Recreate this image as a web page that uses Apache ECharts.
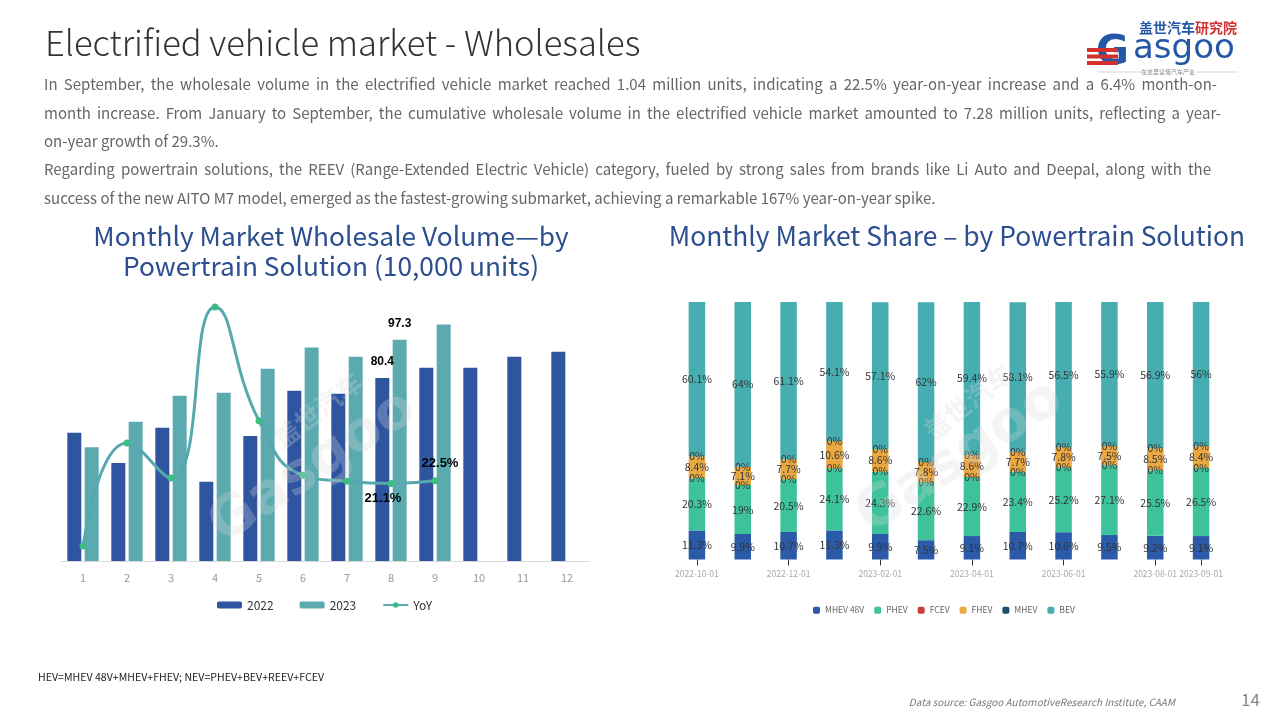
<!DOCTYPE html>
<html>
<head>
<meta charset="utf-8">
<script src="https://cdn.jsdelivr.net/npm/echarts@6/dist/echarts.min.js"></script>
<style>
html,body{margin:0;padding:0;background:#fff;}
#main{width:1280px;height:720px;}
</style>
</head>
<body>
<div id="main"></div>
<script>
// ---------- data ----------
const months = ['1','2','3','4','5','6','7','8','9','10','11','12'];
const vol2022 = [56.4, 43.1, 58.6, 34.8, 55.0, 74.8, 73.5, 80.4, 84.9, 85.0, 89.8, 92.0];
const vol2023 = [50.0, 61.2, 72.6, 74.0, 84.5, 93.8, 89.8, 97.3, 104.0];
const yoy = [-11.3, 42.0, 23.9, 112.6, 53.6, 25.4, 22.2, 21.1, 22.5];

const shareMonths = ['2022-10-01','2022-11-01','2022-12-01','2023-01-01','2023-02-01','2023-03-01',
                     '2023-04-01','2023-05-01','2023-06-01','2023-07-01','2023-08-01','2023-09-01'];
const mhev48v = [11.3, 9.9, 10.7, 11.3, 9.9, 7.5, 9.1, 10.7, 10.6, 9.5, 9.2, 9.1];
const phev    = [20.3, 19, 20.5, 24.1, 24.3, 22.6, 22.9, 23.4, 25.2, 27.1, 25.5, 26.5];
const fcev    = [0, 0, 0, 0, 0, 0, 0, 0, 0, 0, 0, 0];
const fhev    = [8.4, 7.1, 7.7, 10.6, 8.6, 7.8, 8.6, 7.7, 7.8, 7.5, 8.5, 8.4];
const mhev    = [0, 0, 0, 0, 0, 0, 0, 0, 0, 0, 0, 0];
const bev     = [60.1, 64, 61.1, 54.1, 57.1, 62, 59.4, 58.1, 56.5, 55.9, 56.9, 56];
const shownDateLabels = ['2022-10-01','2022-12-01','2023-02-01','2023-04-01','2023-06-01','2023-08-01','2023-09-01'];

const pageTitle = 'Electrified vehicle market - Wholesales';
const bodyLines = [
 'In September, the wholesale volume in the electrified vehicle market reached 1.04 million units, indicating a 22.5% year-on-year increase and a 6.4% month-on-',
 'month increase. From January to September, the cumulative wholesale volume in the electrified vehicle market amounted to 7.28 million units, reflecting a year-',
 'on-year growth of 29.3%.',
 'Regarding powertrain solutions, the REEV (Range-Extended Electric Vehicle) category, fueled by strong sales from brands like Li Auto and Deepal, along with the',
 'success of the new AITO M7 model, emerged as the fastest-growing submarket, achieving a remarkable 167% year-on-year spike.'
];
const leftTitle = 'Monthly Market Wholesale Volume\u2014by\nPowertrain Solution (10,000 units)';
const rightTitle = 'Monthly Market Share \u2013 by Powertrain Solution';
const footnote = 'HEV=MHEV 48V+MHEV+FHEV; NEV=PHEV+BEV+REEV+FCEV';
const sourceNote = 'Data source: Gasgoo AutomotiveResearch Institute, CAAM';
const pageNo = '14';

// ---------- layout helpers ----------
const FONT = '"Noto Sans CJK SC","Noto Sans",sans-serif';
const BODY_FONT = '15px ' + FONT;
const bodyRight = [1217, 1221, null, 1211, null]; // justified right edge per line (null = natural)
const measureCtx = document.createElement('canvas').getContext('2d');
function bodyGraphicsFor(lines){
  measureCtx.font = BODY_FONT;
  const out = [];
  lines.forEach((t,i)=>{
    const top = 77 + i*28.4;
    if(bodyRight[i] == null){
      out.push({type:'text', left:44, top:top, style:{text:t, font:BODY_FONT, fill:'#666'}});
      return;
    }
    const words = t.split(' ');
    const ws = words.map(w=>measureCtx.measureText(w).width);
    const total = ws.reduce((a,b)=>a+b,0);
    const gap = (bodyRight[i] - 44 - total) / (words.length - 1);
    let x = 44;
    words.forEach((w,k)=>{
      out.push({type:'text', x:x, y:top, style:{text:w, font:BODY_FONT, fill:'#666', verticalAlign:'top'}});
      x += ws[k] + gap;
    });
  });
  return out;
}

// ---------- chart ----------
const chart = echarts.init(document.getElementById('main'), null, {renderer:'canvas'});

const hl = 7; // highlighted month index (August)
function withLabel(arr, idx, label){
  return arr.map((v,i)=> i===idx ? {value:v, label:label} : v);
}
const barLabel = {show:true, position:'top', distance:10, color:'#000', fontSize:12, fontWeight:'bold',
  fontFamily:'"Liberation Sans",Arial,sans-serif'};
const yoyData = yoy.map((v,i)=>{
  if(i===7) return {value:v, label:{show:true, position:'bottom', distance:5, offset:[-8,0]}};
  if(i===8) return {value:v, label:{show:true, position:'top', distance:7, offset:[5,0]}};
  return v;
});

const shareColors = ['#2a5aa8','#3dc29c','#c8413c','#e9a842','#1f4f72','#46aeb0'];
const shareNames = ['MHEV 48V','PHEV','FCEV','FHEV','MHEV','BEV'];
const shareData = [mhev48v, phev, fcev, fhev, mhev, bev];

const shareSeries = shareNames.map((n,k)=>({
  name:n, type:'bar', stack:'share', xAxisIndex:1, yAxisIndex:2,
  barWidth:16.5, data:shareData[k],
  itemStyle:{color:shareColors[k]},
  label:{show:true, position:'inside', formatter:'{c}%', color:'#333', fontSize:10.5, fontFamily:FONT},
  emphasis:{disabled:true}
}));

const wmStyle = {fill:'rgba(215,215,215,0.28)', align:'center', verticalAlign:'middle'};
const dateInterval = (i,v)=>shownDateLabels.indexOf(v)>=0;

const option = {
  animation:false,
  backgroundColor:'#fff',
  textStyle:{fontFamily:FONT},
  title:[
    {text:leftTitle, left:326, top:216, textAlign:'center',
     textStyle:{fontSize:26.3, fontWeight:'normal', color:'#2d4f90', lineHeight:30, fontFamily:FONT}},
    {text:rightTitle, left:952, top:218, textAlign:'center',
     textStyle:{fontSize:26.4, fontWeight:'normal', color:'#2d4f90', fontFamily:FONT}}
  ],
  legend:[
    {data:['2022','2023','YoY'], left:212, top:594, itemWidth:25, itemHeight:7, itemGap:26,
     textStyle:{fontSize:12, color:'#333', fontFamily:FONT}},
    {data:shareNames, left:808, top:601, itemWidth:7, itemHeight:7, itemGap:10, icon:'roundRect',
     textStyle:{fontSize:8.5, color:'#666', fontFamily:FONT}}
  ],
  grid:[
    {left:61, right:691, top:288, bottom:159},
    {left:674, right:56, top:302, bottom:160.5}
  ],
  xAxis:[
    {type:'category', gridIndex:0, data:months,
     axisLine:{lineStyle:{color:'#d9d9d9'}}, axisTick:{show:false},
     axisLabel:{color:'#999', fontSize:11, margin:11}},
    {type:'category', gridIndex:1, data:shareMonths,
     axisLine:{show:true, lineStyle:{color:'rgba(0,0,0,0)'}},
     axisTick:{show:true, alignWithLabel:true, length:6, lineStyle:{color:'#333'}, interval:dateInterval},
     axisLabel:{color:'#aaa', fontSize:8.5, margin:10, interval:dateInterval, hideOverlap:false,
       showMaxLabel:true, showMinLabel:true}}
  ],
  yAxis:[
    {type:'value', gridIndex:0, min:0, max:120, show:false, splitLine:{show:false}},
    {type:'value', gridIndex:0, min:-19.1, max:122.4, show:false, splitLine:{show:false}},
    {type:'value', gridIndex:1, min:0, max:100, show:false, splitLine:{show:false}}
  ],
  series:[
    {name:'2022', type:'bar', xAxisIndex:0, yAxisIndex:0, barWidth:14, barGap:'24%',
     data:withLabel(vol2022, hl, barLabel), itemStyle:{color:'#2f55a1'}, emphasis:{disabled:true}},
    {name:'2023', type:'bar', xAxisIndex:0, yAxisIndex:0, barWidth:14, barGap:'24%',
     data:withLabel(vol2023, hl, barLabel), itemStyle:{color:'#5aaab0'}, emphasis:{disabled:true}},
    {name:'YoY', type:'line', xAxisIndex:0, yAxisIndex:1, smooth:0.5, data:yoyData,
     symbol:'circle', symbolSize:7,
     lineStyle:{color:'#55a9ae', width:3}, itemStyle:{color:'#3dbd82'},
     label:{show:false, formatter:'{c}%', color:'#000', fontSize:13, fontWeight:'bold',
       fontFamily:'"Liberation Sans",Arial,sans-serif'},
     emphasis:{disabled:true}, z:5},
    ...shareSeries
  ],
  graphic:[
    // watermarks
    {type:'text', x:313, y:468, rotation:0.58, z:50, silent:true,
     style:Object.assign({text:'Gasgoo', font:'bold 56px "DejaVu Sans",sans-serif'}, wmStyle)},
    {type:'text', x:318, y:410, rotation:0.66, z:50, silent:true,
     style:Object.assign({text:'盖世汽车', font:'bold 26px "Noto Sans CJK SC"'}, wmStyle)},
    {type:'text', x:960, y:458, rotation:0.58, z:50, silent:true,
     style:Object.assign({text:'Gasgoo', font:'bold 56px "DejaVu Sans",sans-serif'}, wmStyle)},
    {type:'text', x:968, y:402, rotation:0.66, z:50, silent:true,
     style:Object.assign({text:'盖世汽车', font:'bold 26px "Noto Sans CJK SC"'}, wmStyle)},
    // page title
    {type:'text', left:45, top:26, style:{text:pageTitle, font:'300 34.6px ' + FONT, fill:'#333'}},
    ...bodyGraphicsFor(bodyLines),
    // logo
    {type:'text', left:1139, top:21, style:{rich:{
        a:{font:'bold 14px "Noto Sans CJK SC"', fill:'#2557a7'},
        b:{font:'bold 14px "Noto Sans CJK SC"', fill:'#d3302f'}},
      text:'{a|盖世汽车}{b|研究院}'}},
    {type:'text', x:1133, y:32, style:{text:'asgoo', font:'34px "DejaVu Sans",sans-serif', fill:'#2557a7', verticalAlign:'top'}},
    {type:'text', x:1096, y:34, style:{text:'G', font:'bold 40px "DejaVu Sans",sans-serif', fill:'#2557a7', verticalAlign:'top'}},
    {type:'rect', shape:{x:1087, y:48, width:31, height:4}, style:{fill:'#d3302f'}},
    {type:'rect', shape:{x:1087, y:54.5, width:31, height:4}, style:{fill:'#d3302f'}},
    {type:'rect', shape:{x:1087, y:61, width:31, height:4}, style:{fill:'#d3302f'}},
    {type:'line', shape:{x1:1098, y1:72, x2:1141, y2:72}, style:{stroke:'#bbb', lineWidth:0.6}},
    {type:'line', shape:{x1:1196, y1:72, x2:1238, y2:72}, style:{stroke:'#bbb', lineWidth:0.6}},
    {type:'text', x:1168, y:72, style:{text:'在这里读懂汽车产业', font:'6px "Noto Sans CJK SC"', fill:'#888', align:'center', verticalAlign:'middle'}},
    // footer
    {type:'text', left:38, top:672, style:{text:footnote, font:'10.6px ' + FONT, fill:'#222'}},
    {type:'text', right:105, top:697, style:{text:sourceNote, font:'italic 10px ' + FONT, fill:'#777'}},
    {type:'text', left:1241, top:691, style:{text:pageNo, font:'17px ' + FONT, fill:'#888'}}
  ]
};
chart.setOption(option);
</script>
</body>
</html>
